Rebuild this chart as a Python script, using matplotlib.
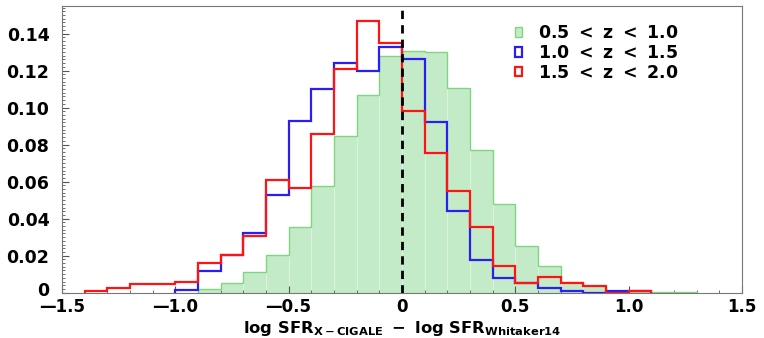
import numpy as np
import matplotlib.pyplot as plt
import matplotlib.transforms as mtransforms
from matplotlib.patches import Patch
from matplotlib.ticker import MultipleLocator, FuncFormatter

# bin edges (width 0.1)
edges_green = np.round(np.arange(-0.9, 1.31, 0.1), 2)
edges_blue = np.round(np.arange(-1.0, 1.11, 0.1), 2)
edges_red = np.round(np.arange(-1.4, 1.11, 0.1), 2)

# 0.5 < z < 1.0
green = [0.002, 0.005, 0.0114, 0.0204, 0.0355, 0.0577, 0.0848, 0.1066, 0.1277,
         0.1305, 0.130, 0.1105, 0.077, 0.0477, 0.0254, 0.0142, 0.0059, 0.0036,
         0.001, 0.001, 0.0004, 0.0003]
# 1.0 < z < 1.5
blue = [0.0016, 0.0115, 0.0204, 0.0325, 0.0527, 0.0926, 0.110, 0.124, 0.1197,
        0.1326, 0.1264, 0.0922, 0.0443, 0.0177, 0.008, 0.0053, 0.0023, 0.0008,
        0.0, 0.0008, 0.0008]
# 1.5 < z < 2.0
red = [0.0009, 0.0027, 0.0048, 0.0048, 0.0057, 0.016, 0.0204, 0.0309, 0.061,
       0.0564, 0.0857, 0.1206, 0.1468, 0.1351, 0.098, 0.0757, 0.0552, 0.0356,
       0.0146, 0.0053, 0.0084, 0.005, 0.0036, 0.0, 0.001]

labels = [r'$\mathbf{0.5\ <\ z\ <\ 1.0}$', r'$\mathbf{1.0\ <\ z\ <\ 1.5}$',
          r'$\mathbf{1.5\ <\ z\ <\ 2.0}$']

plt.rcParams['font.family'] = 'DejaVu Sans'
plt.rcParams['font.weight'] = 'bold'
plt.rcParams['mathtext.fontset'] = 'dejavusans'

fig = plt.figure(figsize=(7.64, 3.38), dpi=100)
ax = fig.add_axes([0.081, 0.134, 0.890, 0.849])

gfill = '#c4ebc7'
gedge = '#80d680'
ax.bar(edges_green[:-1], green, width=0.1, align='edge', color=gfill,
       edgecolor='#def4df', lw=0.6, zorder=1)
ax.stairs(green, edges_green, color=gedge, lw=1.0, zorder=2)
ax.stairs(blue, edges_blue, color='#2a1ff0', lw=1.6, zorder=3)
ax.stairs(red, edges_red, color='#ff1414', lw=1.6, zorder=4)
ax.axvline(0, color='black', ls=(0, (3, 2.2)), lw=2, zorder=5)

ax.set_xlim(-1.5, 1.5)
ax.set_ylim(0, 0.155)
ax.xaxis.set_major_locator(MultipleLocator(0.5))
ax.xaxis.set_minor_locator(MultipleLocator(0.1))
ax.yaxis.set_major_locator(MultipleLocator(0.02))
ax.yaxis.set_minor_locator(MultipleLocator(0.002))
ax.xaxis.set_major_formatter(FuncFormatter(lambda v, p: '0' if abs(v) < 1e-9 else ('\u2014' + f'{abs(v):.1f}' if v < 0 else f'{v:.1f}')))
ax.yaxis.set_major_formatter(FuncFormatter(lambda v, p: '0' if abs(v) < 1e-9 else f'{v:.2f}'))
ax.tick_params(which='both', direction='in', labelsize=12.5, color='#555555')
ax.tick_params(which='major', length=5)
ax.tick_params(which='minor', length=2.5)
ax.tick_params(axis='x', labelsize=12, pad=3.5)
ax.tick_params(axis='y', pad=9)
for s in ax.spines.values():
    s.set_color('#777777')

# nudge the y "0" label up a bit so it clears the x tick label below it
fig.canvas.draw()
for t in ax.get_yticklabels():
    if t.get_text() == '0':
        t.set_transform(t.get_transform() + mtransforms.ScaledTranslation(0, 3 / 72, fig.dpi_scale_trans))

ax.set_xlabel(r'$\mathbf{log\ SFR_{X-CIGALE}\ -\ log\ SFR_{Whitaker14}}$', fontsize=11.8, va='bottom')
ax.xaxis.set_label_coords(0.5, -0.157)

handles = [Patch(facecolor=gfill, edgecolor=gedge),
           Patch(facecolor='none', edgecolor='#2a1ff0', lw=1.6),
           Patch(facecolor='none', edgecolor='#ff1414', lw=1.6)]
ax.legend(handles, labels, loc='upper right', bbox_to_anchor=(0.93, 0.99), frameon=False,
          handlelength=0.45, handleheight=0.5, handletextpad=0.9, labelspacing=0.1,
          prop={'weight': 'bold', 'size': 12.5})

fig.savefig('out.png', dpi=100)
